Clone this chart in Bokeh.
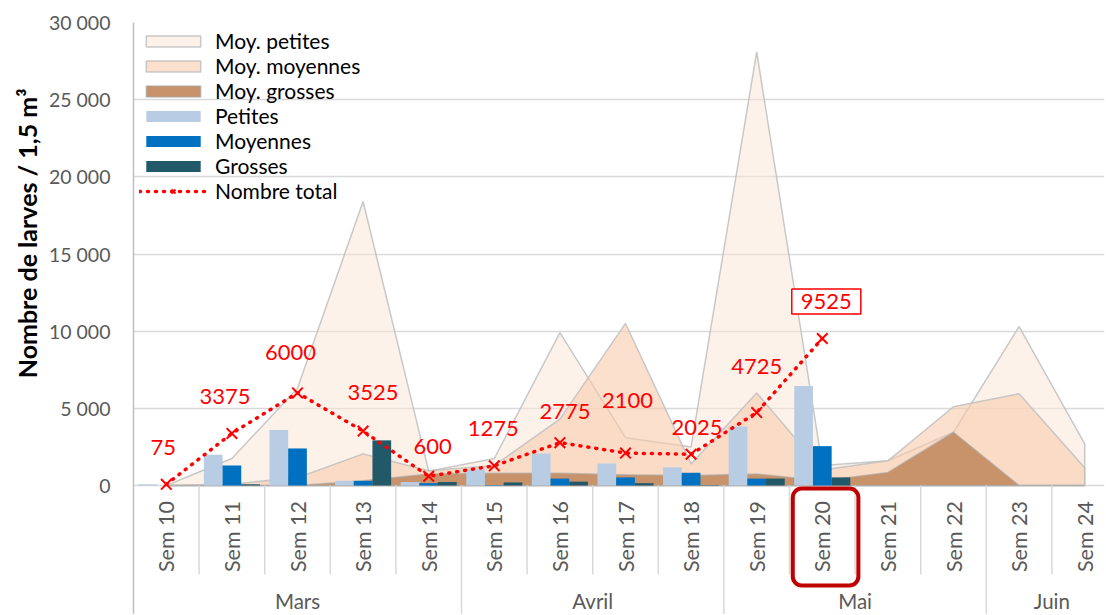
import math
from bokeh.plotting import figure
from bokeh.models import ColumnDataSource, Legend, LegendItem, FixedTicker, Label, Range1d, Title
from bokeh.core.properties import value
from bokeh.transform import dodge
from bokeh.embed import file_html
from bokeh.resources import INLINE

# ---------------- data ----------------
cats = ["Sem 10", "Sem 11", "Sem 12", "Sem 13", "Sem 14", "Sem 15", "Sem 16", "Sem 17",
        "Sem 18", "Sem 19", "Sem 20", "Sem 21", "Sem 22", "Sem 23", "Sem 24"]
months = ["Mars"] * 5 + ["Avril"] * 4 + ["Mai"] * 4 + ["Juin"] * 2

moy_petites = [0, 1750, 6300, 18400, 930, 1750, 9900, 3100, 2500, 28100, 1300, 1600, 3450, 10300, 2700]
moy_moyennes = [0, 100, 500, 2050, 950, 1300, 4300, 10500, 1400, 6000, 1000, 1600, 5100, 5950, 1150]
moy_grosses = [0, 0, 0, 300, 750, 800, 800, 700, 650, 750, 300, 850, 3450, 0, 0]

petites = [75, 2000, 3600, 300, 225, 1050, 2075, 1425, 1175, 3825, 6450, 0, 0, 0, 0]
moyennes = [0, 1300, 2400, 300, 150, 25, 450, 525, 825, 450, 2550, 0, 0, 0, 0]
grosses = [0, 75, 0, 2925, 225, 200, 250, 150, 25, 450, 525, 0, 0, 0, 0]

total = [75, 3375, 6000, 3525, 600, 1275, 2775, 2100, 2025, 4725, 9525]
total_labels = ["75", "3375", "6000", "3525", "600", "1275", "2775", "2100", "2025", "4725", "9525"]
highlight = "Sem 20"

y_ticks = [0, 5000, 10000, 15000, 20000, 25000, 30000]
y_tick_labels = ["0", "5 000", "10 000", "15 000", "20 000", "25 000", "30 000"]
y_title = "Nombre de larves / 1,5 m³"

# ---------------- styles ----------------
FONT = "Lato"
GRAY_TXT = "#595959"
RED = "#FF0000"
W, H = 1105, 614
BL, BT, BB, BR = 133, 22, 0, 1
frame_h = H - BT - BB
frame_w = W - BL - BR
upp = 30000 / 463.0          # data units per pixel
y_top = 30000
y0 = y_top - frame_h * upp
cat_px = 65.6
x0 = -0.5
x1 = x0 + frame_w / cat_px


def pv(page_y):
    """page pixel y -> data value (0 sits at page y 485)"""
    return (485 - page_y) * upp


p = figure(width=W, height=H, x_range=Range1d(x0, x1), y_range=Range1d(y0, y_top),
           output_backend="svg", toolbar_location=None, x_axis_location=None,
           min_border_left=BL, min_border_top=BT, min_border_bottom=BB, min_border_right=BR)
p.outline_line_color = None
p.xgrid.visible = False
p.ygrid.grid_line_color = "#D9D9D9"
p.ygrid.grid_line_width = 1.5

ax = p.yaxis[0]
ax.ticker = FixedTicker(ticks=y_ticks)
ax.major_label_overrides = {t: l for t, l in zip(y_ticks, y_tick_labels)}
ax.bounds = (y0, y_top)
ax.axis_line_color = "#BFBFBF"
ax.axis_line_width = 1.5
ax.major_tick_line_color = None
ax.minor_tick_line_color = None
ax.major_tick_out = 0
ax.major_tick_in = 0
ax.major_label_standoff = 23
ax.major_label_text_font = FONT
ax.major_label_text_font_size = "19.5px"
ax.major_label_text_color = GRAY_TXT

p.add_layout(Title(text=y_title, align="right", offset=66, standoff=8,
                   text_font=FONT, text_font_size="25px", text_font_style="bold",
                   text_color="black"), "left")

idx = list(range(len(cats)))

# ---------------- areas ----------------
area_specs = [
    (moy_petites, "#FBE5D6", 0.5, "#BFBFBF", 0.85),
    (moy_moyennes, "#F8CBAD", 0.6, "#BFBFBF", 0.85),
    (moy_grosses, "#C8936A", 1.0, "#A6A6A6", 0.6),
]
area_r = []
for vals, fc, fa, lc, la in area_specs:
    xs = idx + [idx[-1], idx[0]]
    ys = list(vals) + [0, 0]
    r = p.patch(xs, ys, fill_color=fc, fill_alpha=fa, line_color=lc, line_alpha=la, line_width=1.5)
    area_r.append(r)

# ---------------- bars ----------------
src = ColumnDataSource(dict(x=idx, petites=petites, moyennes=moyennes, grosses=grosses))
bw = 0.285
b1 = p.vbar(x=dodge("x", -bw, range=p.x_range), top="petites", width=bw, source=src,
            fill_color="#B8CCE4", line_color=None)
b2 = p.vbar(x=dodge("x", 0, range=p.x_range), top="moyennes", width=bw, source=src,
            fill_color="#0070C0", line_color=None)
b3 = p.vbar(x=dodge("x", bw, range=p.x_range), top="grosses", width=bw, source=src,
            fill_color="#215968", line_color=None)

# ---------------- total line ----------------
tx = idx[:len(total)]
ln = p.line(tx, total, line_color=RED, line_width=3.5, line_dash="1 7", line_cap="round")
mk = p.scatter(tx, total, marker="x", size=15, line_color=RED, line_width=2)

hi = cats.index(highlight)
lab_dx = [-3, -7, -7, 10, 4, -1, 5, 2, 6, 0, 4]
lab_dy = [-37, -37, -40, -39, -30, -37, -31, -53, -27, -46, -37]
lsrc = ColumnDataSource(dict(x=tx[:hi], y=total[:hi], t=total_labels[:hi],
                             dx=lab_dx[:hi], dy=lab_dy[:hi]))
p.text(x="x", y="y", text="t", x_offset="dx", y_offset="dy", source=lsrc,
       text_font=value(FONT), text_font_size="22px", text_color=RED,
       text_align="center", text_baseline="middle")

p.add_layout(Label(x=tx[hi], y=total[hi] - lab_dy[hi] * upp, x_offset=lab_dx[hi],
                   text=total_labels[hi],
                   text_font=FONT, text_font_size="22px", text_color=RED,
                   text_align="center", text_baseline="middle",
                   border_line_color=RED, border_line_width=1.5,
                   background_fill_color="white", padding=(9, 5)))

# ---------------- category axis (drawn inside extended frame) ----------------
n = len(cats)
sep_x = [i + 0.5 for i in range(n - 1)]
short = [m_a == m_b for m_a, m_b in zip(months[:-1], months[1:])]
p.segment(x0=sep_x, y0=[0] * len(sep_x), x1=sep_x,
          y1=[pv(574) if s else y0 for s in short],
          line_color="#D9D9D9", line_width=1.5)

p.text(x=idx, y=[pv(536)] * n, text=cats, angle=math.pi / 2,
       text_font=value(FONT), text_font_size="21.5px", text_color=GRAY_TXT,
       text_align="center", text_baseline="middle")

groups = []
for i, m in enumerate(months):
    if not groups or groups[-1][0] != m:
        groups.append([m, []])
    groups[-1][1].append(i)
p.text(x=[sum(g[1]) / len(g[1]) for g in groups], y=[pv(600)] * len(groups),
       text=[g[0] for g in groups],
       text_font=value(FONT), text_font_size="20.5px", text_color=GRAY_TXT,
       text_align="center", text_baseline="middle")

p.quad(left=hi - 0.45, right=hi + 0.55, top=pv(488), bottom=pv(585),
       fill_color=None, line_color="#C00000", line_width=4, border_radius=9)

# ---------------- legend ----------------
legend = Legend(items=[
    LegendItem(label="Moy. petites", renderers=[area_r[0]]),
    LegendItem(label="Moy. moyennes", renderers=[area_r[1]]),
    LegendItem(label="Moy. grosses", renderers=[area_r[2]]),
    LegendItem(label="Petites", renderers=[b1]),
    LegendItem(label="Moyennes", renderers=[b2]),
    LegendItem(label="Grosses", renderers=[b3]),
    LegendItem(label="Nombre total", renderers=[ln, mk]),
], location="top_left")
legend.background_fill_alpha = 0
legend.border_line_alpha = 0
legend.label_text_font = FONT
legend.label_text_font_size = "21px"
legend.label_text_line_height = 1.0
legend.label_text_color = "black"
legend.glyph_width = 68
legend.glyph_height = 14
legend.label_standoff = 8
legend.padding = 6
legend.margin = 0
legend.spacing = 0
legend.label_height = 20
p.add_layout(legend)

open("out.html", "w").write(file_html(p, INLINE))
